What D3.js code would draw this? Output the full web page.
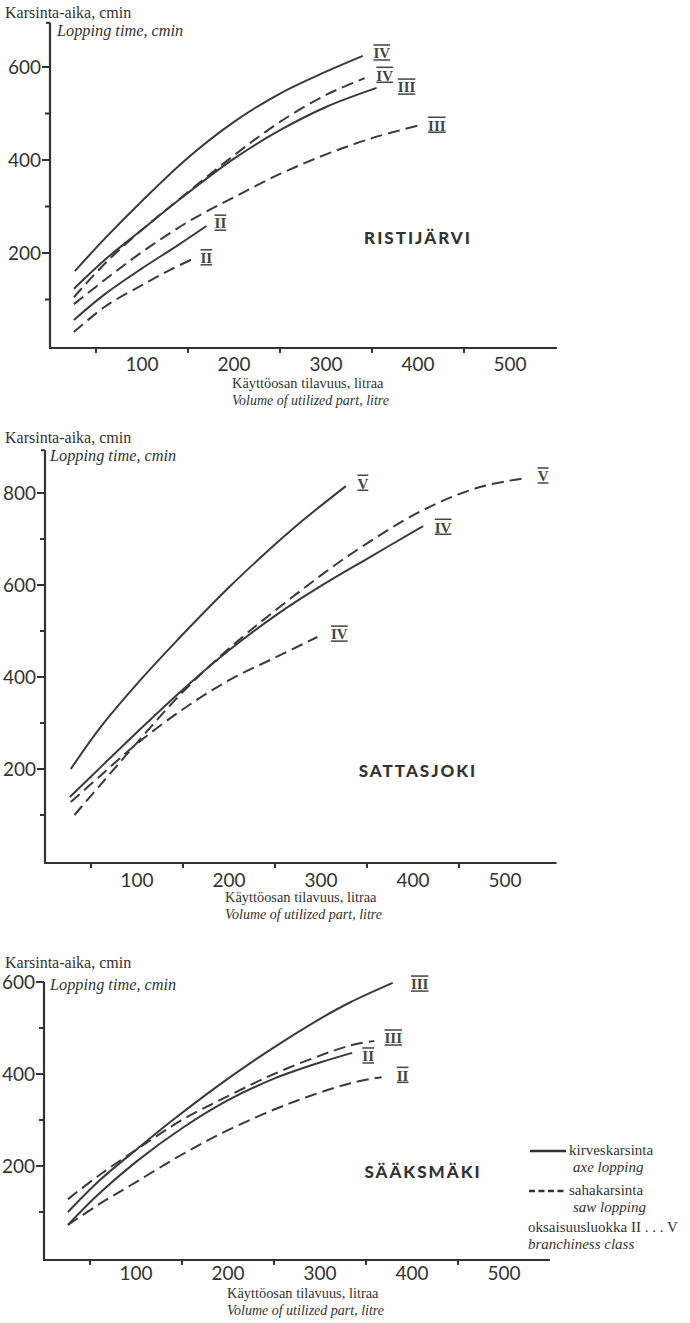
<!DOCTYPE html>
<html>
<head>
<meta charset="utf-8">
<script src="https://cdn.jsdelivr.net/npm/d3@7"></script>
<style>
  body { margin: 0; background: #fff; }
  .num { font-family: Lato, "Open Sans", sans-serif; font-size: 19px; fill: #333; }
  .ser { font-family: "Liberation Serif", serif; font-size: 15px; fill: #333; }
  .ylab1 { font-size: 16px; }
  .ylab2 { font-size: 16.3px; font-style: italic; }
  .xlab1 { font-size: 14.4px; }
  .xlab2 { font-size: 14px; font-style: italic; }
  .ital { font-style: italic; }
  .title { font-family: Lato, sans-serif; font-weight: 900; font-size: 17px; letter-spacing: 2px; fill: #333; }
  .roman { font-family: "Liberation Serif", serif; font-size: 15px; font-weight: bold; fill: #444; text-decoration: overline underline; }
</style>
</head>
<body>
<div id="chart"></div>
<script>
// tick values
const xTickLabels = [100, 200, 300, 400, 500];
const xMinorTicks = [50, 150, 250, 350, 450];
const yMajor1 = [200, 400, 600], yMinor1 = [100, 300, 500];
const yMajor2 = [200, 400, 600, 800], yMinor2 = [100, 300, 500, 700];
const yMajor3 = [200, 400, 600], yMinor3 = [100, 300, 500];

// Ristijärvi  [volume litre, lopping time cmin]
const ristiAxeIV  = [[27,161],[60,232],[100,312],[150,405],[200,482],[250,543],[300,590],[340,624]];
const ristiSawIV  = [[26,105],[60,178],[100,250],[140,315],[200,410],[250,482],[300,540],[342,576]];
const ristiAxeIII = [[26,123],[60,186],[100,250],[140,314],[200,403],[250,464],[300,514],[355,555]];
const ristiSawIII = [[26,90],[60,143],[100,202],[150,267],[200,320],[250,370],[300,412],[350,447],[402,475]];
const ristiAxeII  = [[26,56],[60,112],[100,167],[140,218],[170,258]];
const ristiSawII  = [[26,30],[60,85],[100,131],[130,163],[158,190]];

// Sattasjoki
const sattaAxeV  = [[28,200],[60,290],[100,385],[140,472],[200,595],[240,670],[280,740],[327,815]];
const sattaAxeIV = [[27,139],[60,203],[100,280],[150,373],[200,458],[255,540],[300,598],[350,657],[411,728]];
const sattaSawV  = [[32,100],[60,165],[96,248],[150,368],[200,462],[255,552],[328,661],[411,763],[473,813],[524,833]];
const sattaSawIV = [[28,128],[60,185],[100,255],[150,330],[200,393],[250,442],[296,487]];

// Sääksmäki
const saakAxeIII = [[26,100],[60,168],[100,235],[140,300],[200,390],[250,458],[300,520],[333,556],[379,598]];
const saakSawIII = [[26,128],[60,180],[100,235],[150,300],[200,352],[250,400],[300,440],[333,462],[359,472]];
const saakAxeII  = [[26,72],[60,140],[100,209],[150,282],[200,343],[250,390],[300,425],[335,446]];
const saakSawII  = [[26,72],[60,117],[100,165],[150,225],[200,278],[267,336],[333,380],[367,393]];

const W = 690, H = 1323;
const svg = d3.select("#chart").append("svg").attr("width", W).attr("height", H);
const ink = "#333";

const panels = [
  { name: "RISTIJÄRVI", ox: 50, oy: 346, kx: 0.92, ky: 0.465, xMax: 551, yTop: 695,
    major: yMajor1, minor: yMinor1, tickDy: 18, titleX: 418, titleY: 238,
    yl1: [5, 18], yl2: [57, 36], xl: [232, 388],
    series: [
      { d: ristiAxeIV, dash: false, lab: "IV", dx: 19, dy: -3 },
      { d: ristiSawIV, dash: true, lab: "IV", dx: 20, dy: -3 },
      { d: ristiAxeIII, dash: false, lab: "III", dx: 30, dy: -1 },
      { d: ristiSawIII, dash: true, lab: "III", dx: 17, dy: 0 },
      { d: ristiAxeII, dash: false, lab: "II", dx: 14, dy: -3 },
      { d: ristiSawII, dash: true, lab: "II", dx: 11, dy: 0 }
    ] },
  { name: "SATTASJOKI", ox: 45, oy: 861, kx: 0.92, ky: 0.46, xMax: 556, yTop: 893,
    major: yMajor2, minor: yMinor2, tickDy: 19, titleX: 418, titleY: 771,
    yl1: [5, 443], yl2: [50, 461], xl: [225, 902],
    series: [
      { d: sattaAxeV, dash: false, lab: "V", dx: 17, dy: -3 },
      { d: sattaSawV, dash: true, lab: "V", dx: 16, dy: -2 },
      { d: sattaAxeIV, dash: false, lab: "IV", dx: 20, dy: 1 },
      { d: sattaSawIV, dash: true, lab: "IV", dx: 22, dy: -3 }
    ] },
  { name: "SÄÄKSMÄKI", ox: 44, oy: 1258, kx: 0.92, ky: 0.46, xMax: 550, yTop: 600,
    major: yMajor3, minor: yMinor3, tickDy: 15, titleX: 423, titleY: 1172,
    yl1: [5, 968], yl2: [50, 990], xl: [227, 1298],
    series: [
      { d: saakAxeIII, dash: false, lab: "III", dx: 27, dy: 1 },
      { d: saakSawIII, dash: true, lab: "III", dx: 19, dy: -3 },
      { d: saakAxeII, dash: false, lab: "II", dx: 16, dy: 3 },
      { d: saakSawII, dash: true, lab: "II", dx: 21, dy: -2 }
    ] }
];

panels.forEach(function (p) {
  var x = d3.scaleLinear().domain([0, 500]).range([p.ox, p.ox + 500 * p.kx]);
  var y = d3.scaleLinear().domain([0, 600]).range([p.oy, p.oy - 600 * p.ky]);
  var g = svg.append("g");

  // axes
  g.append("line").attr("x1", p.ox).attr("x2", p.ox).attr("y1", p.oy + 2).attr("y2", y(p.yTop))
    .attr("stroke", ink).attr("stroke-width", 2.2);
  g.append("line").attr("x1", p.ox - 1).attr("x2", x(p.xMax)).attr("y1", p.oy + 2).attr("y2", p.oy + 2)
    .attr("stroke", ink).attr("stroke-width", 2.2);
  g.append("line").attr("x1", p.ox - 4).attr("x2", p.ox).attr("y1", y(p.yTop)).attr("y2", y(p.yTop))
    .attr("stroke", ink).attr("stroke-width", 2);

  // y ticks
  g.selectAll(".ymaj").data(p.major).enter().append("line")
    .attr("x1", p.ox - 8).attr("x2", p.ox).attr("y1", d => y(d)).attr("y2", d => y(d))
    .attr("stroke", ink).attr("stroke-width", 2);
  g.selectAll(".ymin").data(p.minor).enter().append("line")
    .attr("x1", p.ox - 5).attr("x2", p.ox).attr("y1", d => y(d)).attr("y2", d => y(d))
    .attr("stroke", ink).attr("stroke-width", 2);
  g.selectAll(".ylab").data(p.major).enter().append("text").attr("class", "num")
    .attr("x", p.ox - 9).attr("y", d => y(d)).attr("dy", "0.36em").attr("text-anchor", "end")
    .text(d => d);

  // x ticks
  g.selectAll(".xmin").data(xMinorTicks.filter(d => d < p.xMax)).enter().append("line")
    .attr("x1", d => x(d)).attr("x2", d => x(d)).attr("y1", p.oy + 2).attr("y2", p.oy + 7)
    .attr("stroke", ink).attr("stroke-width", 2);
  g.selectAll(".xlab").data(xTickLabels).enter().append("text").attr("class", "num")
    .attr("x", d => x(d)).attr("y", p.oy + p.tickDy).attr("dy", "0.36em").attr("text-anchor", "middle")
    .text(d => d);

  // axis titles
  g.append("text").attr("class", "ser ylab1").attr("x", p.yl1[0]).attr("y", p.yl1[1]).text("Karsinta-aika, cmin");
  g.append("text").attr("class", "ser ylab2").attr("x", p.yl2[0]).attr("y", p.yl2[1]).text("Lopping time, cmin");
  g.append("text").attr("class", "ser xlab1").attr("x", p.xl[0]).attr("y", p.xl[1]).text("Käyttöosan tilavuus, litraa");
  g.append("text").attr("class", "ser xlab2").attr("x", p.xl[0]).attr("y", p.xl[1] + 17).text("Volume of utilized part, litre");

  g.append("text").attr("class", "title").attr("x", p.titleX).attr("y", p.titleY).attr("dy", "0.36em")
    .attr("text-anchor", "middle").text(p.name);

  // curves
  var line = d3.line().x(d => x(d[0])).y(d => y(d[1])).curve(d3.curveCatmullRom.alpha(0.5));
  p.series.forEach(function (s) {
    g.append("path").attr("d", line(s.d)).attr("fill", "none").attr("stroke", "#3a3a3a")
      .attr("stroke-width", 2).attr("stroke-dasharray", s.dash ? "12,6" : null);
    var last = s.d[s.d.length - 1];
    g.append("text").attr("class", "roman").attr("x", x(last[0]) + s.dx).attr("y", y(last[1]) + s.dy)
      .attr("dy", "0.36em").attr("text-anchor", "middle").text(s.lab);
  });
});

// legend
var lg = svg.append("g");
lg.append("line").attr("x1", 530).attr("x2", 566).attr("y1", 1151).attr("y2", 1151)
  .attr("stroke", ink).attr("stroke-width", 2.5);
lg.append("line").attr("x1", 529).attr("x2", 566).attr("y1", 1191).attr("y2", 1191)
  .attr("stroke", ink).attr("stroke-width", 2.5).attr("stroke-dasharray", "6,3.5");
lg.append("text").attr("class", "ser").attr("x", 569).attr("y", 1155).text("kirveskarsinta");
lg.append("text").attr("class", "ser ital").attr("x", 573).attr("y", 1172).text("axe lopping");
lg.append("text").attr("class", "ser").attr("x", 569).attr("y", 1195).text("sahakarsinta");
lg.append("text").attr("class", "ser ital").attr("x", 573).attr("y", 1212).text("saw lopping");
lg.append("text").attr("class", "ser").attr("x", 528).attr("y", 1232).text("oksaisuusluokka II . . . V");
lg.append("text").attr("class", "ser ital").attr("x", 528).attr("y", 1249).text("branchiness class");
</script>
</body>
</html>
